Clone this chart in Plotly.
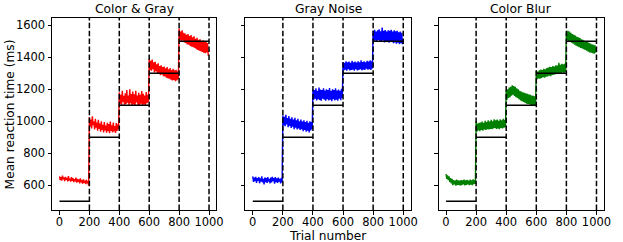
import plotly.graph_objects as go

# ---- data ----
titles = ["Color & Gray", "Gray Noise", "Color Blur"]
colors = ["#ff0000", "#0000ff", "#008000"]
boundaries = [0, 200, 400, 600, 800, 1000]
target_levels = [500, 900, 1100, 1300, 1500]
trials = list(range(0, 1000, 5))
x_ticks = [0, 200, 400, 600, 800, 1000]
y_ticks = [600, 800, 1000, 1200, 1400, 1600]

color_gray = [
    655, 632, 650, 628, 660, 638, 648, 626, 652, 635, 645, 624, 657, 630, 641, 622, 650, 628, 644, 619,
    638, 625, 647, 616, 640, 621, 636, 612, 643, 618, 631, 609, 637, 615, 628, 607, 634, 612, 625, 598,
    1025, 968, 1010, 955, 1030, 975, 998, 948, 1015, 960, 992, 940, 1008, 952, 985, 935, 1000, 945, 978, 930,
    995, 942, 972, 928, 990, 938, 982, 925, 998, 940, 975, 930, 992, 936, 970, 926, 988, 940, 980, 950,
    1180, 1110, 1165, 1098, 1190, 1120, 1158, 1095, 1175, 1108, 1195, 1115, 1160, 1100, 1200, 1112, 1170, 1098, 1185, 1105,
    1168, 1095, 1190, 1118, 1160, 1102, 1178, 1095, 1165, 1110, 1188, 1100, 1172, 1105, 1160, 1098, 1182, 1112, 1165, 1118,
    1390, 1320, 1378, 1315, 1385, 1325, 1368, 1305, 1372, 1312, 1355, 1298, 1362, 1300, 1345, 1288, 1350, 1292, 1338, 1282,
    1342, 1280, 1330, 1272, 1338, 1268, 1325, 1265, 1332, 1260, 1320, 1255, 1328, 1258, 1318, 1250, 1322, 1255, 1312, 1262,
    1580, 1510, 1560, 1498, 1568, 1505, 1552, 1492, 1548, 1488, 1540, 1480, 1545, 1478, 1532, 1470, 1538, 1465, 1525, 1462,
    1530, 1458, 1515, 1450, 1522, 1445, 1508, 1440, 1512, 1438, 1500, 1432, 1505, 1428, 1495, 1425, 1498, 1430, 1488, 1410,
]

gray_noise = [
    655, 620, 648, 625, 652, 615, 645, 628, 650, 612, 642, 622, 655, 618, 640, 605, 648, 620, 645, 615,
    650, 622, 640, 612, 648, 618, 652, 625, 645, 610, 650, 620, 642, 615, 648, 622, 640, 612, 646, 618,
    1035, 975, 1028, 968, 1040, 980, 1020, 962, 1032, 970, 1015, 958, 1025, 965, 1010, 950, 1022, 960, 1005, 948,
    1015, 955, 1000, 945, 1010, 950, 998, 938, 1005, 945, 995, 935, 1002, 940, 990, 930, 1000, 942, 995, 950,
    1200, 1135, 1195, 1140, 1205, 1130, 1190, 1138, 1210, 1132, 1198, 1128, 1195, 1140, 1205, 1135, 1192, 1128, 1200, 1138,
    1195, 1130, 1208, 1135, 1190, 1125, 1200, 1138, 1195, 1130, 1205, 1135, 1192, 1128, 1198, 1140, 1190, 1132, 1202, 1145,
    1370, 1318, 1365, 1322, 1375, 1315, 1368, 1325, 1372, 1318, 1365, 1320, 1378, 1322, 1368, 1315, 1372, 1325, 1366, 1318,
    1375, 1320, 1368, 1325, 1380, 1318, 1370, 1322, 1375, 1320, 1368, 1328, 1378, 1322, 1372, 1325, 1380, 1320, 1375, 1330,
    1565, 1500, 1572, 1505, 1560, 1495, 1568, 1508, 1575, 1500, 1562, 1498, 1585, 1505, 1565, 1492, 1570, 1500, 1560, 1495,
    1568, 1490, 1565, 1498, 1572, 1495, 1560, 1488, 1568, 1492, 1562, 1485, 1565, 1490, 1555, 1482, 1560, 1488, 1552, 1480,
]

color_blur = [
    670, 640, 662, 632, 655, 620, 645, 612, 640, 600, 632, 605, 628, 598, 635, 600, 630, 602, 628, 598,
    632, 600, 630, 605, 635, 598, 630, 602, 634, 605, 628, 600, 635, 604, 630, 600, 636, 606, 632, 608,
    1000, 935, 985, 942, 990, 938, 992, 945, 998, 940, 990, 948, 1002, 945, 995, 950, 1005, 948, 998, 952,
    1008, 950, 1000, 955, 1012, 958, 1005, 952, 1010, 955, 1002, 950, 1012, 958, 1005, 955, 1015, 960, 1008, 962,
    1195, 1135, 1200, 1145, 1210, 1150, 1215, 1160, 1225, 1165, 1220, 1158, 1215, 1150, 1205, 1145, 1200, 1138, 1190, 1130,
    1185, 1125, 1180, 1120, 1178, 1115, 1175, 1110, 1172, 1108, 1168, 1105, 1165, 1102, 1160, 1100, 1158, 1098, 1155, 1100,
    1315, 1262, 1310, 1268, 1318, 1265, 1322, 1270, 1320, 1275, 1328, 1272, 1325, 1278, 1332, 1280, 1335, 1285, 1340, 1282,
    1338, 1288, 1345, 1290, 1342, 1292, 1350, 1295, 1348, 1298, 1365, 1300, 1352, 1302, 1358, 1305, 1355, 1300, 1360, 1308,
    1555, 1505, 1565, 1500, 1560, 1495, 1552, 1490, 1545, 1485, 1540, 1478, 1535, 1472, 1528, 1468, 1525, 1462, 1520, 1458,
    1512, 1455, 1508, 1450, 1502, 1445, 1498, 1440, 1495, 1435, 1490, 1430, 1485, 1428, 1480, 1425, 1478, 1422, 1475, 1428,
]

series = [color_gray, gray_noise, color_blur]

# ---- layout ----
W, H = 623, 242
ML, MR, MT, MB = 52, 14, 18, 32
domains = [[0.0, 0.298], [0.3501, 0.6499], [0.7002, 1.0]]
FONT = "DejaVu Sans"
FS_TICK = 11.5
FS_TITLE = 12.3
FS_LABEL = 12.2

fig = go.Figure()

for i, (vals, col) in enumerate(zip(series, colors)):
    xa = "x" if i == 0 else f"x{i+1}"
    ya = "y" if i == 0 else f"y{i+1}"
    fig.add_trace(go.Scatter(x=trials, y=vals, mode="lines",
                             line=dict(color=col, width=1.4),
                             xaxis=xa, yaxis=ya, showlegend=False, hoverinfo="skip"))
    sx, sy = [], []
    for k, lvl in enumerate(target_levels):
        sx += [boundaries[k], boundaries[k + 1], None]
        sy += [lvl, lvl, None]
    fig.add_trace(go.Scatter(x=sx, y=sy, mode="lines",
                             line=dict(color="black", width=1.5),
                             xaxis=xa, yaxis=ya, showlegend=False, hoverinfo="skip"))
    for b in boundaries[1:]:
        fig.add_shape(type="line", xref=xa, yref=f"{ya} domain",
                      x0=b, x1=b, y0=0, y1=1,
                      line=dict(color="black", width=1.5, dash="5.5px,2.4px"))

axis_common = dict(showgrid=False, zeroline=False, showline=True, linecolor="black",
                   linewidth=1, mirror=True, ticks="outside", ticklen=3.5,
                   tickwidth=1, tickcolor="black",
                   tickfont=dict(family=FONT, size=FS_TICK, color="black"))

layout = dict(width=W, height=H, margin=dict(l=ML, r=MR, t=MT, b=MB),
              paper_bgcolor="white", plot_bgcolor="white",
              font=dict(family=FONT, size=FS_TICK, color="black"), showlegend=False)

for i in range(3):
    xk = "xaxis" if i == 0 else f"xaxis{i+1}"
    yk = "yaxis" if i == 0 else f"yaxis{i+1}"
    ya = "y" if i == 0 else f"y{i+1}"
    xa = "x" if i == 0 else f"x{i+1}"
    layout[xk] = dict(axis_common, domain=domains[i], anchor=ya, range=[-50, 1050],
                      tickvals=x_ticks, ticktext=[str(t) for t in x_ticks],
                      ticklabelstandoff=-2)
    layout[yk] = dict(axis_common, domain=[0, 1], anchor=xa, range=[445, 1645],
                      tickvals=y_ticks,
                      ticktext=[str(t) for t in y_ticks] if i == 0 else [""] * len(y_ticks))

fig.update_layout(**layout)

annotations = []
for i, t in enumerate(titles):
    annotations.append(dict(text=t, xref="paper", yref="paper",
                            x=(domains[i][0] + domains[i][1]) / 2, y=1,
                            xanchor="center", yanchor="bottom", yshift=0,
                            showarrow=False, font=dict(family=FONT, size=FS_TITLE, color="black")))
annotations.append(dict(text="Trial number", xref="paper", yref="paper",
                        x=(domains[1][0] + domains[1][1]) / 2, y=-0.134,
                        xanchor="center", yanchor="middle", showarrow=False,
                        font=dict(family=FONT, size=FS_LABEL, color="black")))
annotations.append(dict(text="Mean reaction time (ms)", xref="paper", yref="paper",
                        x=(10 - ML) / (W - ML - MR), y=0.5, textangle=-90,
                        xanchor="center", yanchor="middle", showarrow=False,
                        font=dict(family=FONT, size=FS_LABEL, color="black")))
fig.update_layout(annotations=annotations)

fig.write_html("out.html", config={"displayModeBar": False},
               post_script="document.body.style.margin='0px';")
